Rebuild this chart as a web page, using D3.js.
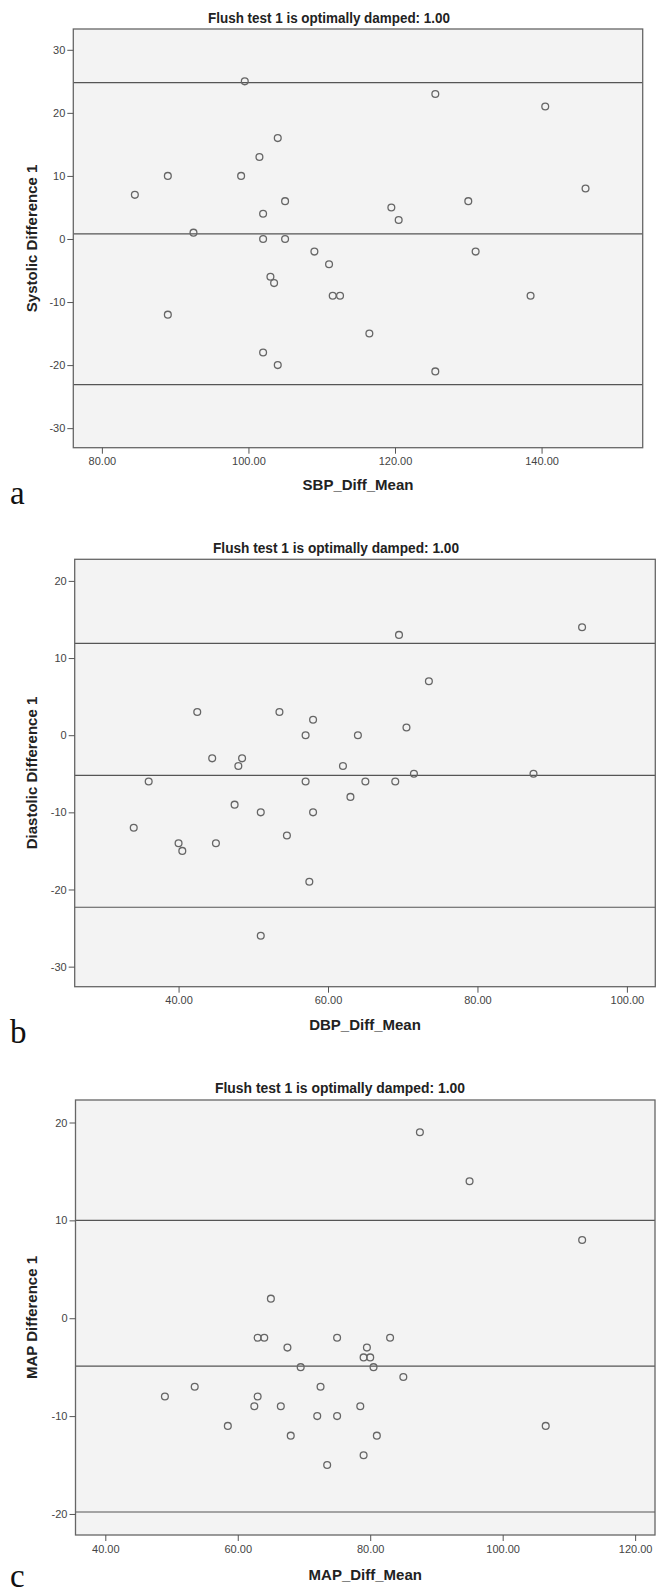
<!DOCTYPE html>
<html>
<head>
<meta charset="utf-8">
<script src="https://cdn.jsdelivr.net/npm/d3@7"></script>
<style>
  body { margin: 0; background: #fff; }
  svg { display: block; }
  .tick text { font-family: "Liberation Sans", Arial, sans-serif; font-size: 11px; fill: #444; }
  .tick line { stroke: #555; }
  .domain { display: none; }
</style>
</head>
<body>
<svg id="chart" width="656" height="1595"></svg>
<script>
// panel a : systolic
var sbpMean = [99.5, 125.5, 140.5, 104, 101.5, 89, 99, 84.5, 146, 105, 102, 119.5, 120.5, 130, 92.5,
  102, 105, 109, 131, 111, 103, 103.5, 111.5, 112.5, 138.5, 89, 116.5, 102, 104, 125.5];
var sbpDiff = [25, 23, 21, 16, 13, 10, 10, 7, 8, 6, 4, 5, 3, 6, 1,
  0, 0, -2, -2, -4, -6, -7, -9, -9, -9, -12, -15, -18, -20, -21];
var sbpLimits = [24.8, 0.8, -23.1];
var sbpXTicks = [80, 100, 120, 140];
var sbpYTicks = [30, 20, 10, 0, -10, -20, -30];

// panel b : diastolic
var dbpMean = [69.5, 94, 73.5, 42.5, 53.5, 58, 70.5, 57, 64, 44.5, 48.5, 48, 62, 71.5, 87.5,
  36, 57, 65, 69, 63, 47.5, 51, 58, 34, 54.5, 40, 45, 40.5, 57.5, 51];
var dbpDiff = [13, 14, 7, 3, 3, 2, 1, 0, 0, -3, -3, -4, -4, -5, -5,
  -6, -6, -6, -6, -8, -9, -10, -10, -12, -13, -14, -14, -15, -19, -26];
var dbpLimits = [11.9, -5.2, -22.3];
var dbpXTicks = [40, 60, 80, 100];
var dbpYTicks = [20, 10, 0, -10, -20, -30];

// panel c : mean arterial
var mapMean = [87.5, 95, 112, 65, 63, 64, 75, 83, 67.5, 79.5, 79, 80, 69.5, 80.5, 85,
  53.5, 72.5, 49, 63, 62.5, 66.5, 78.5, 72, 75, 58.5, 106.5, 68, 81, 79, 73.5];
var mapDiff = [19, 14, 8, 2, -2, -2, -2, -2, -3, -3, -4, -4, -5, -5, -6,
  -7, -7, -8, -8, -9, -9, -9, -10, -10, -11, -11, -12, -12, -14, -15];
var mapLimits = [10.0, -4.9, -19.8];
var mapXTicks = [40, 60, 80, 100, 120];
var mapYTicks = [20, 10, 0, -10, -20];

var titleText = "Flush test 1 is optimally damped: 1.00";

var panels = [
  { x: sbpMean, y: sbpDiff, limits: sbpLimits, xTicks: sbpXTicks, yTicks: sbpYTicks,
    xDomain: [76.1, 153.8], yDomain: [-33.1, 33.3],
    xLabel: "SBP_Diff_Mean", yLabel: "Systolic Difference 1", letter: "a",
    box: { l: 73.3, r: 642.7, t: 29, b: 447.7 },
    titleX: 329, titleY: 22.5, titleW: 242, xLabelY: 490, letterY: 504 },
  { x: dbpMean, y: dbpDiff, limits: dbpLimits, xTicks: dbpXTicks, yTicks: dbpYTicks,
    xDomain: [26.1, 103.8], yDomain: [-32.6, 22.8],
    xLabel: "DBP_Diff_Mean", yLabel: "Diastolic Difference 1", letter: "b",
    box: { l: 74.7, r: 655.3, t: 559.3, b: 986.7 },
    titleX: 336, titleY: 553, titleW: 246, xLabelY: 1030, letterY: 1043 },
  { x: mapMean, y: mapDiff, limits: mapLimits, xTicks: mapXTicks, yTicks: mapYTicks,
    xDomain: [35.5, 123.0], yDomain: [-22.15, 22.3],
    xLabel: "MAP_Diff_Mean", yLabel: "MAP Difference 1", letter: "c",
    box: { l: 75.5, r: 655, t: 1100, b: 1535 },
    titleX: 340, titleY: 1093, titleW: 250, xLabelY: 1580, letterY: 1587 }
];

var svg = d3.select("#chart");

panels.forEach(function(p) {
  var b = p.box;
  var xs = d3.scaleLinear().domain(p.xDomain).range([b.l, b.r]);
  var ys = d3.scaleLinear().domain(p.yDomain).range([b.b, b.t]);
  var g = svg.append("g");

  g.append("rect")
    .attr("x", b.l).attr("y", b.t)
    .attr("width", b.r - b.l).attr("height", b.b - b.t)
    .attr("fill", "#f3f3f3");

  // mean and limits of agreement
  g.selectAll("line.ref").data(p.limits).enter().append("line")
    .attr("class", "ref")
    .attr("x1", b.l).attr("x2", b.r)
    .attr("y1", function(d) { return ys(d); })
    .attr("y2", function(d) { return ys(d); })
    .attr("stroke", "#555").attr("stroke-width", 1.2);

  g.selectAll("circle").data(p.x).enter().append("circle")
    .attr("cx", function(d) { return xs(d); })
    .attr("cy", function(d, i) { return ys(p.y[i]); })
    .attr("r", 3.4)
    .attr("fill", "none")
    .attr("stroke", "#666")
    .attr("stroke-width", 1.3);

  g.append("rect")
    .attr("x", b.l).attr("y", b.t)
    .attr("width", b.r - b.l).attr("height", b.b - b.t)
    .attr("fill", "none").attr("stroke", "#666").attr("stroke-width", 1.3);

  g.append("g")
    .attr("transform", "translate(" + b.l + ",0)")
    .call(d3.axisLeft(ys).tickValues(p.yTicks).tickSize(6).tickPadding(2)
      .tickFormat(function(d) { return String(d); }));

  g.append("g")
    .attr("transform", "translate(0," + b.b + ")")
    .call(d3.axisBottom(xs).tickValues(p.xTicks).tickSize(6).tickPadding(4)
      .tickFormat(function(d) { return d.toFixed(2); }));

  g.append("text")
    .attr("x", p.titleX).attr("y", p.titleY)
    .attr("text-anchor", "middle")
    .attr("textLength", p.titleW)
    .attr("lengthAdjust", "spacingAndGlyphs")
    .style("font-family", "'Liberation Sans Narrow', 'Arial Narrow', 'Liberation Sans', sans-serif")
    .style("font-weight", "bold")
    .style("font-size", "14px")
    .style("fill", "#222")
    .text(titleText);

  g.append("text")
    .attr("x", (b.l + b.r) / 2).attr("y", p.xLabelY)
    .attr("text-anchor", "middle")
    .style("font-family", "'Liberation Sans', Arial, sans-serif")
    .style("font-weight", "bold")
    .style("font-size", "15px")
    .style("fill", "#222")
    .text(p.xLabel);

  g.append("text")
    .attr("transform", "translate(37," + ((b.t + b.b) / 2) + ") rotate(-90)")
    .attr("text-anchor", "middle")
    .style("font-family", "'Liberation Sans', Arial, sans-serif")
    .style("font-weight", "bold")
    .style("font-size", "15px")
    .style("fill", "#222")
    .text(p.yLabel);

  g.append("text")
    .attr("x", 10).attr("y", p.letterY)
    .style("font-family", "'Liberation Serif', 'Times New Roman', serif")
    .style("font-size", "33px")
    .style("fill", "#111")
    .text(p.letter);
});
</script>
</body>
</html>
